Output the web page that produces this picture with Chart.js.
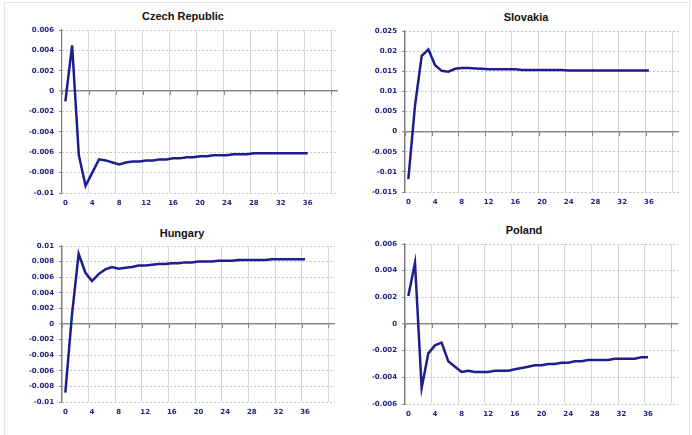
<!DOCTYPE html>
<html><head><meta charset="utf-8">
<script src="https://cdn.jsdelivr.net/npm/chart.js@4"></script>
<style>
body{margin:0;background:#fff;width:692px;height:435px;position:relative;overflow:hidden}
.frame{position:absolute;left:4px;top:2px;width:686px;height:440px;border:1px solid #e4e4e4;box-sizing:border-box}
canvas{position:absolute}
.t{position:absolute;width:200px;text-align:center;font:bold 11px "Liberation Sans",Arial,sans-serif;color:#111;line-height:14px}
</style></head><body>
<div class="frame"></div>
<div class="t" style="left:83px;top:9px">Czech Republic</div>
<div class="t" style="left:426px;top:10px">Slovakia</div>
<div class="t" style="left:82px;top:226px">Hungary</div>
<div class="t" style="left:424px;top:223px">Poland</div>
<canvas id="c1" style="left:0;top:0" width="346" height="215"></canvas>
<canvas id="c2" style="left:346px;top:0" width="346" height="215"></canvas>
<canvas id="c3" style="left:0;top:215px" width="346" height="220"></canvas>
<canvas id="c4" style="left:346px;top:215px" width="346" height="220"></canvas>
<script>
const periods = ['0','1','2','3','4','5','6','7','8','9','10','11','12','13','14','15','16','17','18','19','20',
  '21','22','23','24','25','26','27','28','29','30','31','32','33','34','35','36','37','38','39','40'];
const xTickLabels = ['0','4','8','12','16','20','24','28','32','36'];

const czech = [-0.0010, 0.0045, -0.0063, -0.0093, -0.0080, -0.0067, -0.0068, -0.0070, -0.0072, -0.0070,
  -0.0069, -0.0069, -0.0068, -0.0068, -0.0067, -0.0067, -0.0066, -0.0066, -0.0065, -0.0065,
  -0.0064, -0.0064, -0.0063, -0.0063, -0.0063, -0.0062, -0.0062, -0.0062, -0.0061, -0.0061,
  -0.0061, -0.0061, -0.0061, -0.0061, -0.0061, -0.0061, -0.0061];
const slovakia = [-0.0118, 0.0065, 0.0188, 0.0204, 0.0165, 0.0151, 0.0149, 0.0156, 0.0158, 0.0158,
  0.0157, 0.0156, 0.0155, 0.0155, 0.0155, 0.0155, 0.0155, 0.0153, 0.0153, 0.0153,
  0.0153, 0.0153, 0.0153, 0.0153, 0.0152, 0.0152, 0.0152, 0.0152, 0.0152, 0.0152,
  0.0152, 0.0152, 0.0152, 0.0152, 0.0152, 0.0152, 0.0152];
const hungary = [-0.0088, 0.0012, 0.0090, 0.0066, 0.0055, 0.0064, 0.0070, 0.0073, 0.0071, 0.0072,
  0.0073, 0.0075, 0.0075, 0.0076, 0.0077, 0.0077, 0.0078, 0.0078, 0.0079, 0.0079,
  0.0080, 0.0080, 0.0080, 0.0081, 0.0081, 0.0081, 0.0082, 0.0082, 0.0082, 0.0082,
  0.0082, 0.0083, 0.0083, 0.0083, 0.0083, 0.0083, 0.0083];
const poland = [0.0021, 0.0046, -0.0048, -0.0022, -0.0016, -0.0014, -0.0028, -0.0032, -0.0036, -0.0035,
  -0.0036, -0.0036, -0.0036, -0.0035, -0.0035, -0.0035, -0.0034, -0.0033, -0.0032, -0.0031,
  -0.0031, -0.0030, -0.0030, -0.0029, -0.0029, -0.0028, -0.0028, -0.0027, -0.0027, -0.0027,
  -0.0027, -0.0026, -0.0026, -0.0026, -0.0026, -0.0025, -0.0025];

const tickFont = {family:'"DejaVu Sans", Verdana, sans-serif', size:7, weight:'bold'};
const tickColor = '#23237f';

const zeroTicks = {
  id:'zeroTicks',
  beforeDatasetsDraw(chart){
    const x = chart.scales.x, y = chart.scales.y, ctx = chart.ctx;
    const yp = Math.round(y.getPixelForValue(0));
    const w = x.getPixelForValue(1) - x.getPixelForValue(0);
    ctx.save();
    ctx.strokeStyle = '#8a8a8a'; ctx.lineWidth = 1;
    ctx.beginPath();
    for (let i = 0; i < periods.length; i += 4) {
      const px = Math.round(x.getPixelForValue(i) - w/2) + 0.5;
      ctx.moveTo(px, yp); ctx.lineTo(px, yp + 4);
    }
    ctx.stroke();
    ctx.restore();
  }
};

function fmt(v){ return String(Number(v.toFixed(4))); }

function makeChart(id, values, yMin, yMax, yStep, lay){
  new Chart(document.getElementById(id), {
    type:'line',
    data:{ labels: periods, datasets:[{ data: values, borderColor:'#1e1e8c', borderWidth:2.5,
      pointRadius:0, tension:0, fill:false }]},
    plugins:[zeroTicks],
    options:{
      responsive:false, animation:false, events:[],
      layout:{ padding:{ top:lay.top, right:lay.right, left:0, bottom:0 } },
      plugins:{ legend:{display:false}, tooltip:{enabled:false}, title:{display:false} },
      scales:{
        x:{
          type:'category', offset:true,
          grid:{ offset:true, drawTicks:false,
            color:(c)=> (c.index % 4 === 0 && c.index < periods.length) ? '#d6d6d6' : 'rgba(0,0,0,0)',
            lineWidth:1 },
          border:{ display:false },
          ticks:{ autoSkip:false, maxRotation:0, minRotation:0, padding:6, font:tickFont, color:tickColor,
            callback:(v,i)=> xTickLabels.includes(periods[i]) ? periods[i] : '' },
          afterFit:(s)=>{ s.height = lay.xh; }
        },
        y:{
          min:yMin, max:yMax,
          grid:{ color:(c)=> c.tick && c.tick.value === 0 ? '#8a8a8a' : '#c4c4c4',
            lineWidth:(c)=> c.tick && c.tick.value === 0 ? 1.5 : 1,
            drawTicks:true, tickLength:3, tickColor:'#8a8a8a', tickBorderDash:[], tickWidth:1 },
          border:{ display:true, color:'#7a7a7a', width:1.2,
            dash:(c)=> c.tick && c.tick.value === 0 ? [] : [2,2] },
          ticks:{ stepSize:yStep, padding:5, font:tickFont, color:tickColor,
            callback:(v)=> fmt(v) },
          afterFit:(s)=>{ s.width = lay.yw; }
        }
      }
    }
  });
}

makeChart('c1', czech, -0.01, 0.006, 0.002, {top:30, right:8, yw:62, xh:22});
makeChart('c2', slovakia, -0.015, 0.025, 0.005, {top:31, right:13, yw:59, xh:23});
makeChart('c3', hungary, -0.01, 0.01, 0.002, {top:31, right:11, yw:62, xh:33});
makeChart('c4', poland, -0.006, 0.006, 0.002, {top:29, right:14, yw:59, xh:31});
</script>
</body></html>
